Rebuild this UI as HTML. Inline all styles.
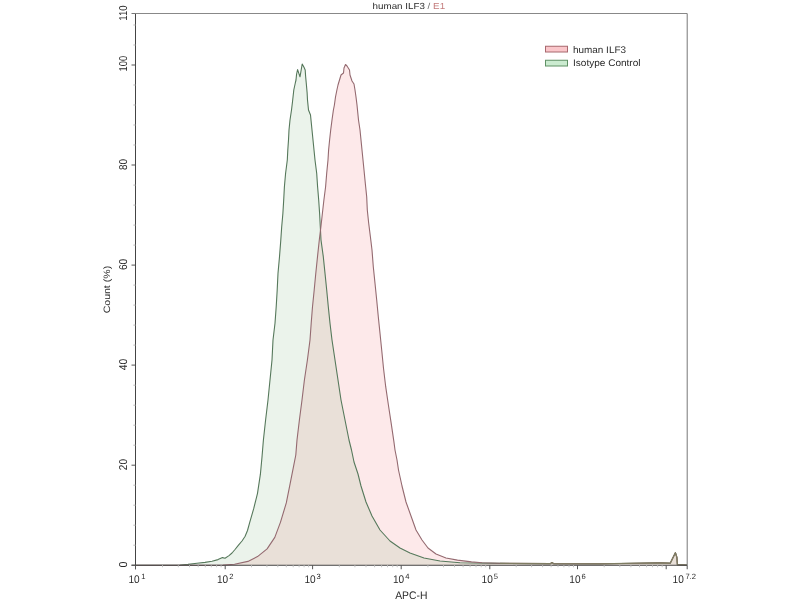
<!DOCTYPE html>
<html><head><meta charset="utf-8"><style>
html,body{margin:0;padding:0;background:#fff;width:800px;height:600px;overflow:hidden}
svg{position:absolute;left:0;top:0;will-change:transform}
text{font-family:"Liberation Sans",sans-serif;fill:#2a2a2a;text-rendering:geometricPrecision}
.yl{font-size:11.4px}
.xl{font-size:11px}
.sup{font-size:7.6px}
</style></head><body>
<svg width="800" height="600" viewBox="0 0 800 600">
<defs><clipPath id="gc"><polygon points="135.5,565.2 180.0,565.0 188.0,564.4 197.0,563.2 205.0,562.4 212.0,561.2 218.0,559.6 222.5,557.6 225.0,558.2 229.0,555.6 232.0,553.0 235.0,549.5 238.3,545.4 242.0,541.0 245.0,536.5 247.5,530.5 249.8,522.1 253.7,508.7 257.5,493.3 260.4,474.2 262.0,457.0 263.4,440.0 265.6,420.0 268.0,400.0 270.0,380.0 272.0,360.0 273.0,340.0 275.0,323.3 276.2,306.7 277.2,290.0 278.0,273.3 279.5,256.7 280.8,240.0 281.7,226.7 282.9,213.3 283.7,200.0 284.4,186.7 285.6,173.3 287.3,160.0 287.8,150.0 288.5,140.0 289.0,130.0 290.0,120.0 291.5,110.0 292.5,101.7 293.8,90.0 295.4,82.5 296.0,80.0 296.6,74.0 297.6,69.6 300.0,76.8 302.2,64.0 304.0,67.2 305.2,70.0 305.6,76.0 306.0,80.4 306.2,82.5 307.1,92.5 307.5,100.0 308.5,110.0 310.5,115.0 311.0,120.0 312.0,130.0 313.0,140.0 314.0,150.0 315.0,160.0 316.7,173.3 317.6,186.7 318.7,200.0 319.6,213.3 320.3,226.7 321.0,240.0 323.3,256.7 325.0,273.3 326.7,290.0 328.3,306.7 330.0,323.3 332.0,340.0 335.0,360.0 338.0,380.0 341.0,400.0 345.0,420.0 349.0,440.0 351.5,450.0 354.0,462.0 358.0,474.0 361.0,486.0 366.0,502.0 372.0,516.0 380.0,530.0 390.0,541.0 400.0,548.0 410.0,553.0 424.0,558.0 440.0,561.0 460.0,562.8 500.0,563.4 550.5,563.6 552.0,562.5 553.5,563.6 600.0,563.8 640.0,563.2 660.0,562.8 670.2,563.2 675.4,552.7 676.9,557.5 677.4,564.6 687.0,565.0"/></clipPath></defs>
<polygon points="135.4,565.2 200.0,565.2 223.0,565.1 234.5,564.3 247.9,561.4 257.5,556.6 267.1,548.9 274.8,537.4 280.5,522.1 286.3,502.9 290.1,483.8 293.9,464.6 295.8,455.0 297.0,440.0 299.4,420.0 302.0,400.0 304.4,380.0 307.4,360.0 310.0,340.0 311.2,323.3 312.5,306.7 314.2,290.0 315.8,273.3 317.5,256.7 319.3,240.0 320.9,226.7 322.4,213.3 323.9,200.0 325.6,186.7 326.7,173.3 328.0,160.0 328.6,150.0 329.6,140.0 330.7,130.0 332.0,120.0 333.4,110.0 334.4,105.0 335.5,97.0 336.9,90.0 338.0,85.0 339.5,80.0 341.0,75.0 343.5,73.0 344.0,68.0 345.5,64.5 347.0,66.0 349.5,70.0 350.0,75.0 352.0,81.0 354.0,84.0 355.0,90.0 356.0,97.0 357.0,105.0 357.5,110.0 358.5,120.0 360.0,130.0 361.0,140.0 362.0,150.0 363.0,160.0 364.0,170.0 365.3,183.3 366.7,196.7 367.3,210.0 368.7,223.3 370.4,236.7 372.0,250.0 373.3,266.7 375.0,283.3 376.7,300.0 378.3,316.7 380.0,333.3 381.7,350.0 383.5,368.3 385.7,386.7 388.4,405.0 391.2,423.3 393.9,441.7 395.0,450.0 397.0,460.0 398.5,470.0 402.0,486.0 406.0,502.0 411.0,516.0 416.0,530.0 422.0,540.0 428.0,548.0 436.0,554.0 446.0,558.0 457.5,560.1 471.5,561.9 482.0,562.8 500.0,563.3 550.5,563.6 552.0,562.5 553.5,563.6 600.0,563.8 640.0,563.2 660.0,562.8 670.2,563.2 675.4,552.7 676.9,557.5 677.4,564.6 687.0,565.2" fill="#fde9ea" stroke="none"/>
<polygon points="135.5,565.2 180.0,565.0 188.0,564.4 197.0,563.2 205.0,562.4 212.0,561.2 218.0,559.6 222.5,557.6 225.0,558.2 229.0,555.6 232.0,553.0 235.0,549.5 238.3,545.4 242.0,541.0 245.0,536.5 247.5,530.5 249.8,522.1 253.7,508.7 257.5,493.3 260.4,474.2 262.0,457.0 263.4,440.0 265.6,420.0 268.0,400.0 270.0,380.0 272.0,360.0 273.0,340.0 275.0,323.3 276.2,306.7 277.2,290.0 278.0,273.3 279.5,256.7 280.8,240.0 281.7,226.7 282.9,213.3 283.7,200.0 284.4,186.7 285.6,173.3 287.3,160.0 287.8,150.0 288.5,140.0 289.0,130.0 290.0,120.0 291.5,110.0 292.5,101.7 293.8,90.0 295.4,82.5 296.0,80.0 296.6,74.0 297.6,69.6 300.0,76.8 302.2,64.0 304.0,67.2 305.2,70.0 305.6,76.0 306.0,80.4 306.2,82.5 307.1,92.5 307.5,100.0 308.5,110.0 310.5,115.0 311.0,120.0 312.0,130.0 313.0,140.0 314.0,150.0 315.0,160.0 316.7,173.3 317.6,186.7 318.7,200.0 319.6,213.3 320.3,226.7 321.0,240.0 323.3,256.7 325.0,273.3 326.7,290.0 328.3,306.7 330.0,323.3 332.0,340.0 335.0,360.0 338.0,380.0 341.0,400.0 345.0,420.0 349.0,440.0 351.5,450.0 354.0,462.0 358.0,474.0 361.0,486.0 366.0,502.0 372.0,516.0 380.0,530.0 390.0,541.0 400.0,548.0 410.0,553.0 424.0,558.0 440.0,561.0 460.0,562.8 500.0,563.4 550.5,563.6 552.0,562.5 553.5,563.6 600.0,563.8 640.0,563.2 660.0,562.8 670.2,563.2 675.4,552.7 676.9,557.5 677.4,564.6 687.0,565.0" fill="#ebf3eb" stroke="none"/>
<polygon points="135.4,565.2 200.0,565.2 223.0,565.1 234.5,564.3 247.9,561.4 257.5,556.6 267.1,548.9 274.8,537.4 280.5,522.1 286.3,502.9 290.1,483.8 293.9,464.6 295.8,455.0 297.0,440.0 299.4,420.0 302.0,400.0 304.4,380.0 307.4,360.0 310.0,340.0 311.2,323.3 312.5,306.7 314.2,290.0 315.8,273.3 317.5,256.7 319.3,240.0 320.9,226.7 322.4,213.3 323.9,200.0 325.6,186.7 326.7,173.3 328.0,160.0 328.6,150.0 329.6,140.0 330.7,130.0 332.0,120.0 333.4,110.0 334.4,105.0 335.5,97.0 336.9,90.0 338.0,85.0 339.5,80.0 341.0,75.0 343.5,73.0 344.0,68.0 345.5,64.5 347.0,66.0 349.5,70.0 350.0,75.0 352.0,81.0 354.0,84.0 355.0,90.0 356.0,97.0 357.0,105.0 357.5,110.0 358.5,120.0 360.0,130.0 361.0,140.0 362.0,150.0 363.0,160.0 364.0,170.0 365.3,183.3 366.7,196.7 367.3,210.0 368.7,223.3 370.4,236.7 372.0,250.0 373.3,266.7 375.0,283.3 376.7,300.0 378.3,316.7 380.0,333.3 381.7,350.0 383.5,368.3 385.7,386.7 388.4,405.0 391.2,423.3 393.9,441.7 395.0,450.0 397.0,460.0 398.5,470.0 402.0,486.0 406.0,502.0 411.0,516.0 416.0,530.0 422.0,540.0 428.0,548.0 436.0,554.0 446.0,558.0 457.5,560.1 471.5,561.9 482.0,562.8 500.0,563.3 550.5,563.6 552.0,562.5 553.5,563.6 600.0,563.8 640.0,563.2 660.0,562.8 670.2,563.2 675.4,552.7 676.9,557.5 677.4,564.6 687.0,565.2" fill="#e9e0d8" stroke="none" clip-path="url(#gc)"/>
<polyline points="135.5,565.2 180.0,565.0 188.0,564.4 197.0,563.2 205.0,562.4 212.0,561.2 218.0,559.6 222.5,557.6 225.0,558.2 229.0,555.6 232.0,553.0 235.0,549.5 238.3,545.4 242.0,541.0 245.0,536.5 247.5,530.5 249.8,522.1 253.7,508.7 257.5,493.3 260.4,474.2 262.0,457.0 263.4,440.0 265.6,420.0 268.0,400.0 270.0,380.0 272.0,360.0 273.0,340.0 275.0,323.3 276.2,306.7 277.2,290.0 278.0,273.3 279.5,256.7 280.8,240.0 281.7,226.7 282.9,213.3 283.7,200.0 284.4,186.7 285.6,173.3 287.3,160.0 287.8,150.0 288.5,140.0 289.0,130.0 290.0,120.0 291.5,110.0 292.5,101.7 293.8,90.0 295.4,82.5 296.0,80.0 296.6,74.0 297.6,69.6 300.0,76.8 302.2,64.0 304.0,67.2 305.2,70.0 305.6,76.0 306.0,80.4 306.2,82.5 307.1,92.5 307.5,100.0 308.5,110.0 310.5,115.0 311.0,120.0 312.0,130.0 313.0,140.0 314.0,150.0 315.0,160.0 316.7,173.3 317.6,186.7 318.7,200.0 319.6,213.3 320.3,226.7 321.0,240.0 323.3,256.7 325.0,273.3 326.7,290.0 328.3,306.7 330.0,323.3 332.0,340.0 335.0,360.0 338.0,380.0 341.0,400.0 345.0,420.0 349.0,440.0 351.5,450.0 354.0,462.0 358.0,474.0 361.0,486.0 366.0,502.0 372.0,516.0 380.0,530.0 390.0,541.0 400.0,548.0 410.0,553.0 424.0,558.0 440.0,561.0 460.0,562.8 500.0,563.4 550.5,563.6 552.0,562.5 553.5,563.6 600.0,563.8 640.0,563.2 660.0,562.8 670.2,563.2 675.4,552.7 676.9,557.5 677.4,564.6 687.0,565.0" fill="none" stroke="#56785b" stroke-width="1.1" stroke-linejoin="round"/>
<polyline points="135.4,565.2 200.0,565.2 223.0,565.1 234.5,564.3 247.9,561.4 257.5,556.6 267.1,548.9 274.8,537.4 280.5,522.1 286.3,502.9 290.1,483.8 293.9,464.6 295.8,455.0 297.0,440.0 299.4,420.0 302.0,400.0 304.4,380.0 307.4,360.0 310.0,340.0 311.2,323.3 312.5,306.7 314.2,290.0 315.8,273.3 317.5,256.7 319.3,240.0 320.9,226.7 322.4,213.3 323.9,200.0 325.6,186.7 326.7,173.3 328.0,160.0 328.6,150.0 329.6,140.0 330.7,130.0 332.0,120.0 333.4,110.0 334.4,105.0 335.5,97.0 336.9,90.0 338.0,85.0 339.5,80.0 341.0,75.0 343.5,73.0 344.0,68.0 345.5,64.5 347.0,66.0 349.5,70.0 350.0,75.0 352.0,81.0 354.0,84.0 355.0,90.0 356.0,97.0 357.0,105.0 357.5,110.0 358.5,120.0 360.0,130.0 361.0,140.0 362.0,150.0 363.0,160.0 364.0,170.0 365.3,183.3 366.7,196.7 367.3,210.0 368.7,223.3 370.4,236.7 372.0,250.0 373.3,266.7 375.0,283.3 376.7,300.0 378.3,316.7 380.0,333.3 381.7,350.0 383.5,368.3 385.7,386.7 388.4,405.0 391.2,423.3 393.9,441.7 395.0,450.0 397.0,460.0 398.5,470.0 402.0,486.0 406.0,502.0 411.0,516.0 416.0,530.0 422.0,540.0 428.0,548.0 436.0,554.0 446.0,558.0 457.5,560.1 471.5,561.9 482.0,562.8 500.0,563.3 550.5,563.6 552.0,562.5 553.5,563.6 600.0,563.8 640.0,563.2 660.0,562.8 670.2,563.2 675.4,552.7 676.9,557.5 677.4,564.6 687.0,565.2" fill="none" stroke="#946a70" stroke-width="1.1" stroke-linejoin="round"/>
<polyline points="500.0,563.4 550.5,563.6 552.0,562.5 553.5,563.6 600.0,563.8 640.0,563.2 660.0,562.8 670.2,563.2 675.4,552.7 676.9,557.5 677.4,564.6 687.0,565.0" fill="none" stroke="#7f7d62" stroke-width="1.2" stroke-linejoin="round"/>
<line x1="135.5" y1="13.5" x2="687.2" y2="13.5" stroke="#888" stroke-width="1"/>
<line x1="687.2" y1="13.5" x2="687.2" y2="565.25" stroke="#777" stroke-width="1"/>
<line x1="135.5" y1="13.5" x2="135.5" y2="569.25" stroke="#444" stroke-width="1"/>
<line x1="131.5" y1="565.25" x2="687.2" y2="565.25" stroke="#444" stroke-width="1"/>
<line x1="131.5" y1="565.2" x2="135.5" y2="565.2" stroke="#555" stroke-width="1"/><line x1="131.5" y1="465.2" x2="135.5" y2="465.2" stroke="#555" stroke-width="1"/><line x1="131.5" y1="365.1" x2="135.5" y2="365.1" stroke="#555" stroke-width="1"/><line x1="131.5" y1="265.1" x2="135.5" y2="265.1" stroke="#555" stroke-width="1"/><line x1="131.5" y1="165.0" x2="135.5" y2="165.0" stroke="#555" stroke-width="1"/><line x1="131.5" y1="65.0" x2="135.5" y2="65.0" stroke="#555" stroke-width="1"/><line x1="131.5" y1="13.5" x2="135.5" y2="13.5" stroke="#777" stroke-width="1"/><line x1="133.4" y1="545.2" x2="135.5" y2="545.2" stroke="#bbb" stroke-width="1"/><line x1="133.4" y1="525.2" x2="135.5" y2="525.2" stroke="#bbb" stroke-width="1"/><line x1="133.4" y1="505.2" x2="135.5" y2="505.2" stroke="#bbb" stroke-width="1"/><line x1="133.4" y1="485.2" x2="135.5" y2="485.2" stroke="#bbb" stroke-width="1"/><line x1="133.4" y1="445.2" x2="135.5" y2="445.2" stroke="#bbb" stroke-width="1"/><line x1="133.4" y1="425.2" x2="135.5" y2="425.2" stroke="#bbb" stroke-width="1"/><line x1="133.4" y1="405.2" x2="135.5" y2="405.2" stroke="#bbb" stroke-width="1"/><line x1="133.4" y1="385.2" x2="135.5" y2="385.2" stroke="#bbb" stroke-width="1"/><line x1="133.4" y1="345.1" x2="135.5" y2="345.1" stroke="#bbb" stroke-width="1"/><line x1="133.4" y1="325.1" x2="135.5" y2="325.1" stroke="#bbb" stroke-width="1"/><line x1="133.4" y1="305.1" x2="135.5" y2="305.1" stroke="#bbb" stroke-width="1"/><line x1="133.4" y1="285.1" x2="135.5" y2="285.1" stroke="#bbb" stroke-width="1"/><line x1="133.4" y1="245.1" x2="135.5" y2="245.1" stroke="#bbb" stroke-width="1"/><line x1="133.4" y1="225.1" x2="135.5" y2="225.1" stroke="#bbb" stroke-width="1"/><line x1="133.4" y1="205.1" x2="135.5" y2="205.1" stroke="#bbb" stroke-width="1"/><line x1="133.4" y1="185.1" x2="135.5" y2="185.1" stroke="#bbb" stroke-width="1"/><line x1="133.4" y1="145.0" x2="135.5" y2="145.0" stroke="#bbb" stroke-width="1"/><line x1="133.4" y1="125.0" x2="135.5" y2="125.0" stroke="#bbb" stroke-width="1"/><line x1="133.4" y1="105.0" x2="135.5" y2="105.0" stroke="#bbb" stroke-width="1"/><line x1="133.4" y1="85.0" x2="135.5" y2="85.0" stroke="#bbb" stroke-width="1"/><line x1="133.4" y1="45.0" x2="135.5" y2="45.0" stroke="#bbb" stroke-width="1"/><line x1="133.4" y1="25.0" x2="135.5" y2="25.0" stroke="#bbb" stroke-width="1"/><line x1="135.5" y1="565.25" x2="135.5" y2="569.25" stroke="#555" stroke-width="1"/><line x1="225.2" y1="565.25" x2="225.2" y2="569.25" stroke="#555" stroke-width="1"/><line x1="312.6" y1="565.25" x2="312.6" y2="569.25" stroke="#555" stroke-width="1"/><line x1="401.2" y1="565.25" x2="401.2" y2="569.25" stroke="#555" stroke-width="1"/><line x1="489.8" y1="565.25" x2="489.8" y2="569.25" stroke="#555" stroke-width="1"/><line x1="577.5" y1="565.25" x2="577.5" y2="569.25" stroke="#555" stroke-width="1"/><line x1="666.2" y1="565.25" x2="666.2" y2="569.25" stroke="#555" stroke-width="1"/><line x1="687.2" y1="565.25" x2="687.2" y2="569.25" stroke="#555" stroke-width="1"/><line x1="162.5" y1="565.25" x2="162.5" y2="567.25" stroke="#c4c4c4" stroke-width="1"/><line x1="178.3" y1="565.25" x2="178.3" y2="567.25" stroke="#c4c4c4" stroke-width="1"/><line x1="189.5" y1="565.25" x2="189.5" y2="567.25" stroke="#c4c4c4" stroke-width="1"/><line x1="198.2" y1="565.25" x2="198.2" y2="567.25" stroke="#c4c4c4" stroke-width="1"/><line x1="205.3" y1="565.25" x2="205.3" y2="567.25" stroke="#c4c4c4" stroke-width="1"/><line x1="211.3" y1="565.25" x2="211.3" y2="567.25" stroke="#c4c4c4" stroke-width="1"/><line x1="216.6" y1="565.25" x2="216.6" y2="567.25" stroke="#c4c4c4" stroke-width="1"/><line x1="221.1" y1="565.25" x2="221.1" y2="567.25" stroke="#c4c4c4" stroke-width="1"/><line x1="251.5" y1="565.25" x2="251.5" y2="567.25" stroke="#c4c4c4" stroke-width="1"/><line x1="266.9" y1="565.25" x2="266.9" y2="567.25" stroke="#c4c4c4" stroke-width="1"/><line x1="277.8" y1="565.25" x2="277.8" y2="567.25" stroke="#c4c4c4" stroke-width="1"/><line x1="286.3" y1="565.25" x2="286.3" y2="567.25" stroke="#c4c4c4" stroke-width="1"/><line x1="293.2" y1="565.25" x2="293.2" y2="567.25" stroke="#c4c4c4" stroke-width="1"/><line x1="299.1" y1="565.25" x2="299.1" y2="567.25" stroke="#c4c4c4" stroke-width="1"/><line x1="304.1" y1="565.25" x2="304.1" y2="567.25" stroke="#c4c4c4" stroke-width="1"/><line x1="308.6" y1="565.25" x2="308.6" y2="567.25" stroke="#c4c4c4" stroke-width="1"/><line x1="339.3" y1="565.25" x2="339.3" y2="567.25" stroke="#c4c4c4" stroke-width="1"/><line x1="354.9" y1="565.25" x2="354.9" y2="567.25" stroke="#c4c4c4" stroke-width="1"/><line x1="366.0" y1="565.25" x2="366.0" y2="567.25" stroke="#c4c4c4" stroke-width="1"/><line x1="374.6" y1="565.25" x2="374.6" y2="567.25" stroke="#c4c4c4" stroke-width="1"/><line x1="381.6" y1="565.25" x2="381.6" y2="567.25" stroke="#c4c4c4" stroke-width="1"/><line x1="387.5" y1="565.25" x2="387.5" y2="567.25" stroke="#c4c4c4" stroke-width="1"/><line x1="392.7" y1="565.25" x2="392.7" y2="567.25" stroke="#c4c4c4" stroke-width="1"/><line x1="397.2" y1="565.25" x2="397.2" y2="567.25" stroke="#c4c4c4" stroke-width="1"/><line x1="427.9" y1="565.25" x2="427.9" y2="567.25" stroke="#c4c4c4" stroke-width="1"/><line x1="443.5" y1="565.25" x2="443.5" y2="567.25" stroke="#c4c4c4" stroke-width="1"/><line x1="454.5" y1="565.25" x2="454.5" y2="567.25" stroke="#c4c4c4" stroke-width="1"/><line x1="463.1" y1="565.25" x2="463.1" y2="567.25" stroke="#c4c4c4" stroke-width="1"/><line x1="470.1" y1="565.25" x2="470.1" y2="567.25" stroke="#c4c4c4" stroke-width="1"/><line x1="476.0" y1="565.25" x2="476.0" y2="567.25" stroke="#c4c4c4" stroke-width="1"/><line x1="481.2" y1="565.25" x2="481.2" y2="567.25" stroke="#c4c4c4" stroke-width="1"/><line x1="485.7" y1="565.25" x2="485.7" y2="567.25" stroke="#c4c4c4" stroke-width="1"/><line x1="516.2" y1="565.25" x2="516.2" y2="567.25" stroke="#c4c4c4" stroke-width="1"/><line x1="531.6" y1="565.25" x2="531.6" y2="567.25" stroke="#c4c4c4" stroke-width="1"/><line x1="542.6" y1="565.25" x2="542.6" y2="567.25" stroke="#c4c4c4" stroke-width="1"/><line x1="551.1" y1="565.25" x2="551.1" y2="567.25" stroke="#c4c4c4" stroke-width="1"/><line x1="558.0" y1="565.25" x2="558.0" y2="567.25" stroke="#c4c4c4" stroke-width="1"/><line x1="563.9" y1="565.25" x2="563.9" y2="567.25" stroke="#c4c4c4" stroke-width="1"/><line x1="569.0" y1="565.25" x2="569.0" y2="567.25" stroke="#c4c4c4" stroke-width="1"/><line x1="573.5" y1="565.25" x2="573.5" y2="567.25" stroke="#c4c4c4" stroke-width="1"/><line x1="604.2" y1="565.25" x2="604.2" y2="567.25" stroke="#c4c4c4" stroke-width="1"/><line x1="619.8" y1="565.25" x2="619.8" y2="567.25" stroke="#c4c4c4" stroke-width="1"/><line x1="630.9" y1="565.25" x2="630.9" y2="567.25" stroke="#c4c4c4" stroke-width="1"/><line x1="639.5" y1="565.25" x2="639.5" y2="567.25" stroke="#c4c4c4" stroke-width="1"/><line x1="646.6" y1="565.25" x2="646.6" y2="567.25" stroke="#c4c4c4" stroke-width="1"/><line x1="652.5" y1="565.25" x2="652.5" y2="567.25" stroke="#c4c4c4" stroke-width="1"/><line x1="657.6" y1="565.25" x2="657.6" y2="567.25" stroke="#c4c4c4" stroke-width="1"/><line x1="662.2" y1="565.25" x2="662.2" y2="567.25" stroke="#c4c4c4" stroke-width="1"/>
<text class="yl" transform="translate(127.2,564.6) rotate(-90)" text-anchor="middle" textLength="6.0" lengthAdjust="spacingAndGlyphs">0</text><text class="yl" transform="translate(127.2,464.6) rotate(-90)" text-anchor="middle" textLength="11.1" lengthAdjust="spacingAndGlyphs">20</text><text class="yl" transform="translate(127.2,364.5) rotate(-90)" text-anchor="middle" textLength="11.5" lengthAdjust="spacingAndGlyphs">40</text><text class="yl" transform="translate(127.2,264.4) rotate(-90)" text-anchor="middle" textLength="11.3" lengthAdjust="spacingAndGlyphs">60</text><text class="yl" transform="translate(127.2,164.5) rotate(-90)" text-anchor="middle" textLength="11.1" lengthAdjust="spacingAndGlyphs">80</text><text class="yl" transform="translate(127.2,63.7) rotate(-90)" text-anchor="middle" textLength="15.5" lengthAdjust="spacingAndGlyphs">100</text><text class="yl" transform="translate(127.2,13.1) rotate(-90)" text-anchor="middle" textLength="15.2" lengthAdjust="spacingAndGlyphs">110</text>
<text class="xl" x="139.7" y="583.3" text-anchor="end" textLength="11.2" lengthAdjust="spacingAndGlyphs">10</text><text class="sup" x="141.3" y="579.1">1</text><text class="xl" x="228.2" y="583.3" text-anchor="end" textLength="11.2" lengthAdjust="spacingAndGlyphs">10</text><text class="sup" x="229.2" y="579.1">2</text><text class="xl" x="315.6" y="583.3" text-anchor="end" textLength="11.2" lengthAdjust="spacingAndGlyphs">10</text><text class="sup" x="316.6" y="579.1">3</text><text class="xl" x="404.2" y="583.3" text-anchor="end" textLength="11.2" lengthAdjust="spacingAndGlyphs">10</text><text class="sup" x="405.2" y="579.1">4</text><text class="xl" x="492.8" y="583.3" text-anchor="end" textLength="11.2" lengthAdjust="spacingAndGlyphs">10</text><text class="sup" x="493.8" y="579.1">5</text><text class="xl" x="580.5" y="583.3" text-anchor="end" textLength="11.2" lengthAdjust="spacingAndGlyphs">10</text><text class="sup" x="581.5" y="579.1">6</text><text class="xl" x="683.8" y="583.3" text-anchor="end" textLength="11.2" lengthAdjust="spacingAndGlyphs">10</text><text class="sup" x="685.4" y="579.1">7.2</text>
<text x="372.6" y="8.9" style="font-size:8.8px" textLength="72.5" lengthAdjust="spacingAndGlyphs">human ILF3 <tspan style="fill:#666">/</tspan> <tspan style="fill:#c47c7c">E1</tspan></text>
<rect x="545.5" y="46.25" width="22" height="5.75" fill="#fac6ca" stroke="#a8686e" stroke-width="1"/>
<rect x="545.5" y="60.25" width="22" height="5.75" fill="#cbebd0" stroke="#5f9165" stroke-width="1"/>
<text x="573" y="52.7" style="font-size:9.6px" textLength="53" lengthAdjust="spacingAndGlyphs">human ILF3</text>
<text x="573" y="66.4" style="font-size:9.6px" textLength="67.5" lengthAdjust="spacingAndGlyphs">Isotype Control</text>
<text x="395.2" y="599.3" style="font-size:11px" textLength="32.2" lengthAdjust="spacingAndGlyphs">APC-H</text>
<text transform="translate(110.4,289.6) rotate(-90)" text-anchor="middle" style="font-size:9.2px" textLength="47.5" lengthAdjust="spacingAndGlyphs">Count (%)</text>
</svg>
</body></html>
